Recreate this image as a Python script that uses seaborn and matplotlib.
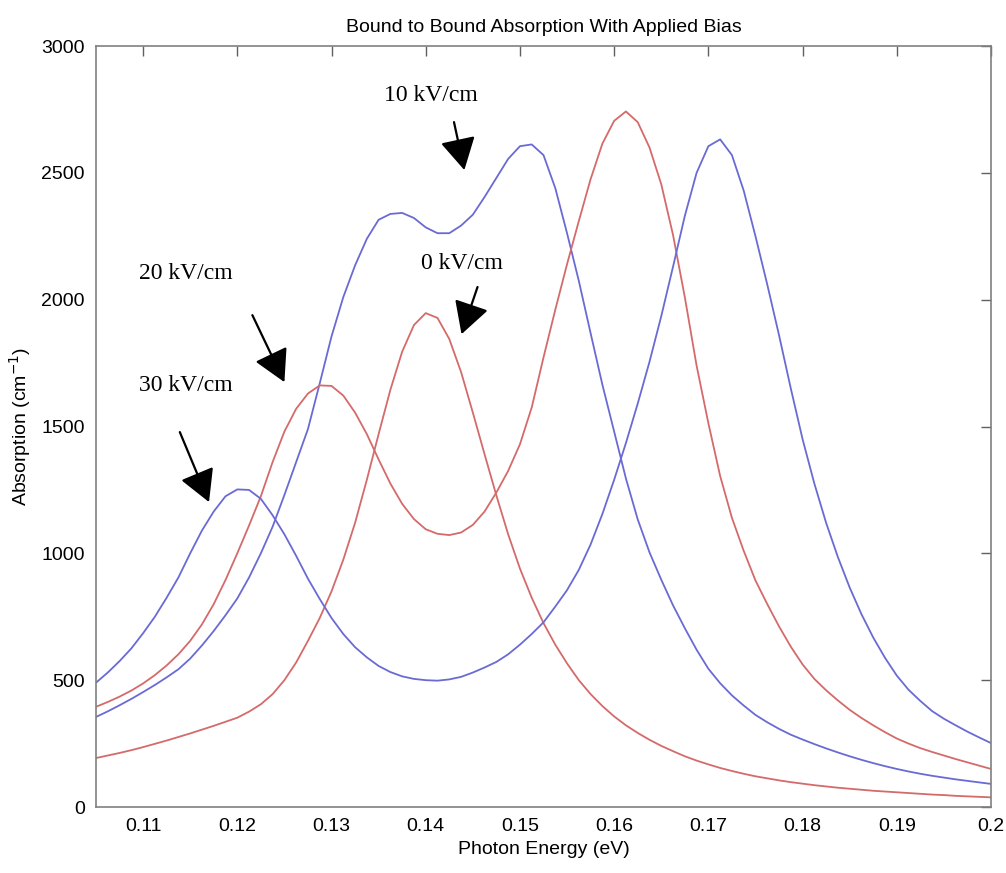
import matplotlib.pyplot as plt
import pandas as pd
import seaborn as sns

# photon energy grid (eV), one point every 1.25 meV
energy = [0.105, 0.10625, 0.1075, 0.10875, 0.11, 0.11125, 0.1125, 0.11375, 0.115, 0.11625,
          0.1175, 0.11875, 0.12, 0.12125, 0.1225, 0.12375, 0.125, 0.12625, 0.1275, 0.12875,
          0.13, 0.13125, 0.1325, 0.13375, 0.135, 0.13625, 0.1375, 0.13875, 0.14, 0.14125,
          0.1425, 0.14375, 0.145, 0.14625, 0.1475, 0.14875, 0.15, 0.15125, 0.1525, 0.15375,
          0.155, 0.15625, 0.1575, 0.15875, 0.16, 0.16125, 0.1625, 0.16375, 0.165, 0.16625,
          0.1675, 0.16875, 0.17, 0.17125, 0.1725, 0.17375, 0.175, 0.17625, 0.1775, 0.17875,
          0.18, 0.18125, 0.1825, 0.18375, 0.185, 0.18625, 0.1875, 0.18875, 0.19, 0.19125,
          0.1925, 0.19375, 0.195, 0.19625, 0.1975, 0.19875, 0.2]

# absorption (cm^-1)
abs_0kv = [193, 203, 213, 224, 236, 249, 262, 276, 290, 305,
           320, 336, 352, 376, 405, 445, 500, 570, 655, 745,
           850, 975, 1120, 1290, 1470, 1645, 1795, 1900, 1947, 1928,
           1845, 1715, 1555, 1390, 1228, 1075, 940, 825, 725, 640,
           566, 500, 445, 398, 357, 322, 292, 265, 241, 220,
           200, 183, 168, 154, 142, 131, 121, 113, 105, 98,
           92, 86, 81, 76, 72, 68, 64, 61, 58, 55,
           52, 49, 47, 44, 42, 40, 38]

abs_10kv = [355, 377, 401, 426, 453, 481, 511, 543, 585, 637,
            694, 756, 822, 905, 1000, 1105, 1230, 1360, 1490, 1670,
            1855, 2010, 2135, 2240, 2315, 2338, 2342, 2322, 2285, 2262,
            2262, 2292, 2335, 2405, 2480, 2555, 2605, 2612, 2570, 2440,
            2262, 2074, 1868, 1665, 1480, 1295, 1134, 1004, 896, 795,
            705, 620, 545, 488, 440, 400, 363, 334, 308, 285,
            266, 248, 231, 215, 200, 186, 173, 161, 150, 140,
            131, 123, 116, 109, 103, 97, 91]

abs_20kv = [395, 414, 435, 459, 487, 520, 558, 602, 655, 720,
            800, 895, 1000, 1110, 1225, 1360, 1480, 1570, 1630, 1662,
            1660, 1622, 1555, 1470, 1370, 1275, 1195, 1135, 1095, 1077,
            1072, 1082, 1112, 1165, 1240, 1325, 1430, 1575, 1772, 1960,
            2140, 2310, 2475, 2615, 2705, 2742, 2700, 2600, 2455, 2255,
            2010, 1740, 1513, 1305, 1140, 1010, 893, 800, 712, 632,
            562, 505, 460, 420, 383, 351, 322, 295, 270, 250,
            232, 217, 203, 189, 176, 163, 150]

abs_30kv = [490, 530, 575, 625, 685, 750, 825, 905, 1000, 1090,
            1165, 1225, 1252, 1250, 1215, 1150, 1075, 990, 900, 820,
            745, 682, 630, 590, 556, 532, 515, 505, 500, 498,
            503, 513, 530, 550, 572, 602, 640, 682, 728, 790,
            855, 935, 1035, 1155, 1290, 1435, 1590, 1755, 1935, 2130,
            2330, 2500, 2605, 2632, 2570, 2430, 2250, 2060, 1860, 1650,
            1450, 1275, 1120, 985, 865, 760, 668, 588, 518, 462,
            418, 378, 348, 322, 297, 274, 252]

fields = ["0 kV/cm", "10 kV/cm", "20 kV/cm", "30 kV/cm"]
colors = ["#d46a6a", "#6a6ad4", "#d46a6a", "#6a6ad4"]

# label text position and arrow tail/tip, in data units
label_xy = [(0.1395, 2144), (0.1356, 2806), (0.1096, 2105), (0.1096, 1663)]
arrow_tail = [(0.1455, 2050), (0.1430, 2700), (0.1216, 1939), (0.1139, 1478)]
arrow_tip = [(0.1438, 1864), (0.1441, 2511), (0.1250, 1675), (0.1170, 1202)]

df = pd.DataFrame({"energy": energy, fields[0]: abs_0kv, fields[1]: abs_10kv,
                   fields[2]: abs_20kv, fields[3]: abs_30kv})
long_df = df.melt(id_vars="energy", var_name="field", value_name="absorption")

sns.set_style("white")
plt.rcParams['font.family'] = ['Liberation Sans', 'DejaVu Sans']
plt.rcParams['text.color'] = 'black'
plt.rcParams['axes.labelcolor'] = 'black'
plt.rcParams['xtick.labelcolor'] = 'black'
plt.rcParams['ytick.labelcolor'] = 'black'

fig = plt.figure(figsize=(10.06, 8.73), dpi=100)
ax = fig.add_axes([0.0954, 0.0756, 0.8897, 0.8717])

sns.lineplot(data=long_df, x="energy", y="absorption", hue="field",
             palette=dict(zip(fields, colors)), linewidth=1.3, legend=False,
             ax=ax)

for name, lxy, tail, tip in zip(fields, label_xy, arrow_tail, arrow_tip):
    ax.text(lxy[0], lxy[1], name, fontsize=17, va="center", ha="left",
            color="black", family=["Liberation Serif", "DejaVu Serif"])
    ax.annotate("", xy=tip, xytext=tail,
                arrowprops=dict(arrowstyle="-|>,head_length=0.9,head_width=0.5",
                                mutation_scale=22, color="black", lw=1.6,
                                shrinkA=0, shrinkB=0))

ax.set_xlim(0.105, 0.2)
ax.set_ylim(0, 3000)
ax.set_xticks([0.11, 0.12, 0.13, 0.14, 0.15, 0.16, 0.17, 0.18, 0.19, 0.2])
ax.set_xticklabels(["0.11", "0.12", "0.13", "0.14", "0.15", "0.16", "0.17",
                    "0.18", "0.19", "0.2"])
ax.set_yticks([0, 500, 1000, 1500, 2000, 2500, 3000])

for side in ax.spines.values():
    side.set_color("#808080")
    side.set_linewidth(1.2)
ax.tick_params(direction="in", length=7, width=1, color="#606060",
               top=True, right=True, labelsize=14, pad=8)

ax.set_title("Bound to Bound Absorption With Applied Bias", fontsize=14, pad=10,
             color="black")
ax.set_xlabel("Photon Energy (eV)", fontsize=14, labelpad=4)
ax.set_ylabel("Absorption (cm$^{-1}$)", fontsize=14, labelpad=6)

fig.savefig("out.png", dpi=100)
